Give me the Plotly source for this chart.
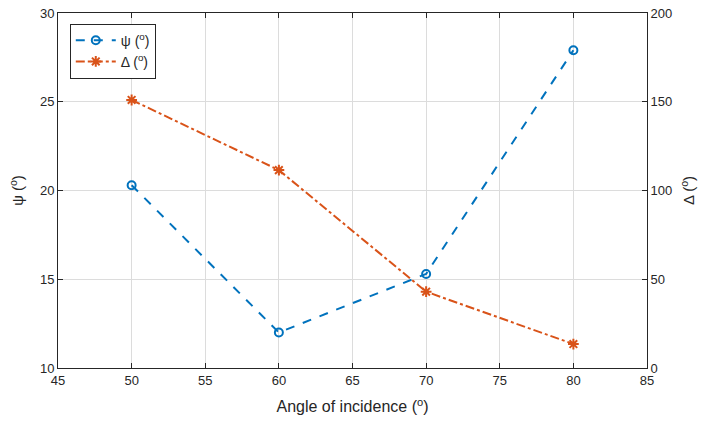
import plotly.graph_objects as go

angles = [50, 60, 70, 80]
psi = [20.3, 12.0, 15.3, 27.9]
delta = [151, 111.5, 43, 13.5]

x_ticks = [45, 50, 55, 60, 65, 70, 75, 80, 85]
y1_ticks = [10, 15, 20, 25, 30]
y2_ticks = [0, 50, 100, 150, 200]

blue = "#0072BD"
orange = "#D95319"
axcol = "#262626"
font = dict(family="Liberation Sans, Arial, sans-serif", size=13, color=axcol)

fig = go.Figure()
fig.add_trace(go.Scatter(
    x=angles, y=psi, name="ψ (<sup>o</sup>)", mode="lines+markers",
    line=dict(color=blue, width=2, dash="dash"),
    marker=dict(symbol="circle-open", size=8, color=blue, line=dict(width=2)),
    yaxis="y"))
fig.add_trace(go.Scatter(
    x=angles, y=delta, name="Δ (<sup>o</sup>)", mode="lines+markers",
    line=dict(color=orange, width=2, dash="dashdot"),
    marker=dict(symbol="asterisk-open", size=9, color=orange, line=dict(width=2, color=orange)),
    yaxis="y2"))

fig.update_layout(
    width=709, height=421,
    margin=dict(l=58, r=62, t=13, b=53),
    paper_bgcolor="white", plot_bgcolor="white",
    font=font,
    showlegend=True,
    legend=dict(x=0.02, y=0.97, xanchor="left", yanchor="top",
                bgcolor="white", bordercolor=axcol, borderwidth=1,
                font=dict(size=14, color=axcol), tracegroupgap=0,
                itemwidth=40),
    xaxis=dict(range=[45, 85], tickvals=x_ticks, ticks="inside", ticklen=5,
               tickcolor=axcol, showline=True, linecolor=axcol, linewidth=1,
               mirror="ticks", showgrid=True, gridcolor="#dcdcdc", zeroline=False,
               automargin=False,
               title=dict(text="Angle of incidence (<sup>o</sup>)", standoff=14,
                          font=dict(size=16, color=axcol))),
    yaxis=dict(range=[10, 30], tickvals=y1_ticks, ticks="inside", ticklen=5,
               tickcolor=axcol, showline=True, linecolor=axcol, linewidth=1,
               showgrid=True, gridcolor="#dcdcdc", zeroline=False,
               automargin=False,
               title=dict(text="ψ (<sup>o</sup>)", standoff=12,
                          font=dict(size=15, color=axcol))),
    yaxis2=dict(range=[0, 200], tickvals=y2_ticks, ticks="inside", ticklen=5,
                tickcolor=axcol, showline=True, linecolor=axcol, linewidth=1,
                overlaying="y", side="right", showgrid=False, zeroline=False,
                automargin=False,
                title=dict(text="Δ (<sup>o</sup>)", standoff=12,
                           font=dict(size=15, color=axcol))),
)

fig.write_html("out.html")
